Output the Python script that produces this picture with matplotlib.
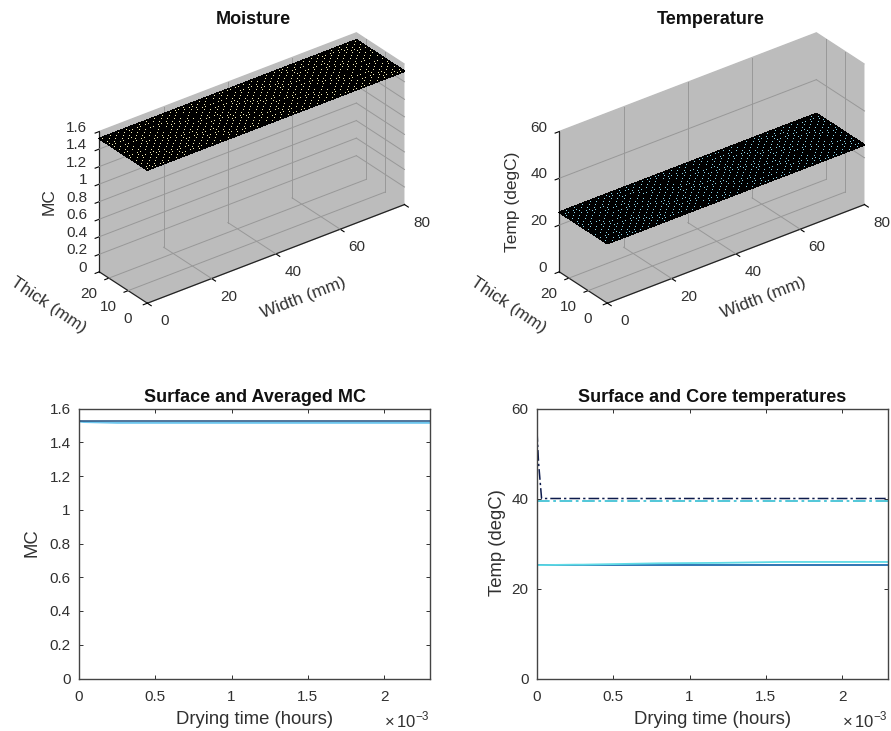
import matplotlib
matplotlib.use("Agg")
import matplotlib.pyplot as plt
from mpl_toolkits.mplot3d import proj3d
import numpy as np

W, H = 891, 731

# 3d plots
width_mm = np.arange(0, 80.1, 1.25)
thick_mm = np.arange(0, 25.1, 1.25)
width_ticks = [0, 20, 40, 60, 80]
thick_ticks = [0, 10, 20]
mc_level = 1.52
temp_level = 25.5
mc_ticks = [0, 0.2, 0.4, 0.6, 0.8, 1, 1.2, 1.4, 1.6]
mc_tick_labels = ["0", "0.2", "0.4", "0.6", "0.8", "1", "1.2", "1.4", "1.6"]
temp_ticks = [0, 20, 40, 60]
temp_tick_labels = ["0", "20", "40", "60"]

# time traces
time_h = [0, 0.00001, 0.00003, 0.00025, 0.0003, 0.0008, 0.0012, 0.0016, 0.0023]
mc_core = [1.525, 1.525, 1.525, 1.525, 1.525, 1.525, 1.525, 1.525, 1.525]
mc_surface = [1.525, 1.522, 1.520, 1.515, 1.515, 1.515, 1.515, 1.515, 1.515]
temp_air = [55, 48, 40, 40, 40, 40, 40, 40, 40]
temp_wet = [39.4, 39.4, 39.4, 39.4, 39.4, 39.4, 39.4, 39.4, 39.4]
temp_core = [25.2, 25.2, 25.2, 25.2, 25.2, 25.2, 25.2, 25.2, 25.2]
temp_surface = [25.2, 25.2, 25.2, 25.3, 25.3, 25.6, 25.7, 25.9, 25.9]
time_ticks = [0, 0.0005, 0.001, 0.0015, 0.002]
time_tick_labels = ["0", "0.5", "1", "1.5", "2"]

plt.rcParams["font.family"] = ["Liberation Sans", "DejaVu Sans"]
plt.rcParams["mathtext.fontset"] = "custom"
plt.rcParams["mathtext.rm"] = "Liberation Sans"

TXT = "#303030"
GRID = "#989898"
fig = plt.figure(figsize=(W / 100, H / 100), dpi=100)


def px_text(x, y, s, **kw):
    fig.text(x / W, 1 - y / H, s, ha="center", va="center", **kw)


def surface_plot(cx, level, face, zlim, zticks, zlabels):
    S = 360
    cy = 172.9
    ax = fig.add_axes([(cx - S / 2) / W, 1 - (cy + S / 2) / H, S / W, S / H],
                      projection="3d", proj_type="ortho", computed_zorder=False)
    ax.patch.set_alpha(0)
    ax.view_init(elev=30, azim=-127.5)
    ax.set_box_aspect((324, 79, 162))
    ax.set_xlim(0, 80)
    ax.set_ylim(0, 25)
    ax.set_zlim(*zlim)
    ax.grid(False)

    # grid only on the inner ticks, the box edges stay clean
    for x in width_ticks[1:-1]:
        ax.plot([x, x], [0, 25], [0, 0], color=GRID, lw=0.7, zorder=1)
        ax.plot([x, x], [25, 25], zlim, color=GRID, lw=0.7, zorder=1)
    for y in thick_ticks[1:]:
        ax.plot([0, 80], [y, y], [0, 0], color=GRID, lw=0.7, zorder=1)
        ax.plot([80, 80], [y, y], zlim, color=GRID, lw=0.7, zorder=1)
    for z in zticks[1:-1]:
        ax.plot([0, 80], [25, 25], [z, z], color=GRID, lw=0.7, zorder=1)
        ax.plot([80, 80], [0, 25], [z, z], color=GRID, lw=0.7, zorder=1)

    xx, yy = np.meshgrid(width_mm, thick_mm)
    ax.plot_surface(xx, yy, np.full(xx.shape, level), color=face, edgecolor="black",
                    linewidth=0.5, shade=False, rstride=1, cstride=1, zorder=2,
                    antialiased=False)
    ax.set_xticks(width_ticks)
    ax.set_yticks(thick_ticks)
    ax.set_zticks(zticks)
    ax.set_xticklabels([])
    ax.set_yticklabels([])
    ax.set_zticklabels([])
    for a, tick in ((ax.xaxis, 1.0), (ax.yaxis, 0.2), (ax.zaxis, 0.2)):
        a.set_pane_color("#bcbcbc")
        a.pane.set_edgecolor("#bcbcbc")
        a.line.set_color("#222222")
        a.line.set_linewidth(0.9)
        # inward_factor points away from the box at this view
        a._axinfo["tick"]["inward_factor"] = tick
        a._axinfo["tick"]["outward_factor"] = 0
        a._axinfo["tick"]["linewidth"] = {True: 0.8, False: 0.8}

    # tick labels placed from the projected tick position
    M = ax.get_proj()

    def label(x, y, z, s, dx, dy):
        px, py, _ = proj3d.proj_transform(x, y, z, M)
        ax.annotate(s, xy=(px, py), xytext=(dx, dy), textcoords="offset pixels",
                    ha="center", va="center", fontsize=11, color=TXT, annotation_clip=False)

    for v in width_ticks:
        label(v, 0, 0, str(v), 17, -18)
    for v in thick_ticks:
        label(0, v, 0, str(v), -20, -16)
    for v, s in zip(zticks, zlabels):
        px, py, _ = proj3d.proj_transform(0, 25, v, M)
        ax.annotate(s, xy=(px, py), xytext=(-12, 4), textcoords="offset pixels",
                    ha="right", va="center", fontsize=11, color=TXT, annotation_clip=False)
    return ax


surface_plot(247, mc_level, "#f7f0b8", (0, 1.6), mc_ticks, mc_tick_labels)
surface_plot(707, temp_level, "#8fd8ec", (0, 60), temp_ticks, temp_tick_labels)

# titles and axis names of the 3d plots
title_kw = dict(fontsize=13, fontweight="bold", color="#111111")
label_kw = dict(fontsize=12.5, color=TXT)
px_text(253, 19, "Moisture", **title_kw)
px_text(711, 19, "Temperature", **title_kw)
px_text(303, 298, "Width (mm)", rotation=21, **label_kw)
px_text(763, 298, "Width (mm)", rotation=21, **label_kw)
px_text(48, 305, "Thick (mm)", rotation=-34, **label_kw)
px_text(508, 305, "Thick (mm)", rotation=-34, **label_kw)
px_text(49, 202, "MC", rotation=90, **label_kw)
px_text(513, 202, "Temp (degC)", rotation=90, **label_kw)


def trace_axes(left, ylim, yticks, ylabels, ylabel, title, ylab_x):
    ax = fig.add_axes([left / W, 1 - 678.5 / H, 351 / W, 270 / H])
    ax.set_xlim(0, 0.0023)
    ax.set_ylim(*ylim)
    ax.set_xticks(time_ticks)
    ax.set_xticklabels(time_tick_labels)
    ax.set_yticks(yticks)
    ax.set_yticklabels(ylabels)
    ax.tick_params(direction="in", top=True, right=True, length=3, width=0.7,
                   labelsize=11, colors=TXT)
    ax.tick_params(axis="x", pad=8)
    ax.tick_params(axis="y", pad=6)
    for s in ax.spines.values():
        s.set_color("#444444")
        s.set_linewidth(1.0)
    ax.set_title(title, fontsize=13, fontweight="bold", color="#111111", pad=5)
    px_text(left + 176, 720, "Drying time (hours)", fontsize=13.3, color=TXT)
    px_text(ylab_x, 543, ylabel, fontsize=13.3, color=TXT, rotation=90)
    ax.text(1.0, -0.154, r"$\times\,\mathrm{10}^{-3}$", transform=ax.transAxes,
            ha="right", va="center", fontsize=12, color=TXT)
    return ax


ax3 = trace_axes(79, (0, 1.6), mc_ticks, mc_tick_labels, "MC", "Surface and Averaged MC", 32)
ax3.plot(time_h, mc_surface, color="#6cc6ee", lw=1.4)
ax3.plot(time_h, mc_core, color="#24507f", lw=1.1)

ax4 = trace_axes(537, (0, 60), temp_ticks, temp_tick_labels, "Temp (degC)",
                 "Surface and Core temperatures", 498)
dash = (7, 2, 1.5, 2)
ax4.plot(time_h, temp_wet, color="#43c3d6", lw=1.3, dashes=dash)
ax4.plot(time_h, temp_air, color="#0d1b4c", lw=1.1, dashes=dash)
ax4.plot(time_h, temp_core, color="#0d5fa8", lw=1.2)
ax4.plot(time_h, temp_surface, color="#5fdbe6", lw=1.3)

fig.savefig("out.png", dpi=100)
